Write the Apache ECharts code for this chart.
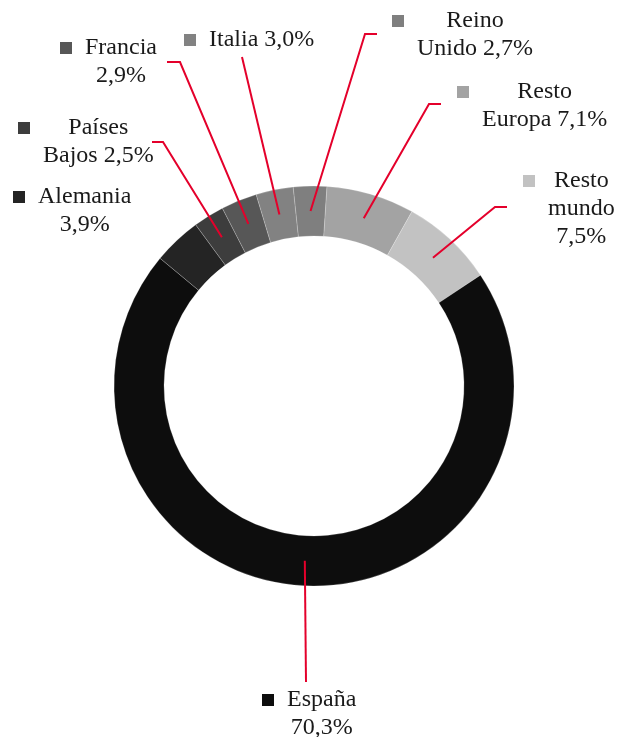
<!DOCTYPE html>
<html>
<head>
<meta charset="utf-8">
<script src="https://cdn.jsdelivr.net/npm/echarts@6/dist/echarts.min.js"></script>
<style>
html,body{margin:0;padding:0;background:#fff;}
#chart{width:618px;height:737px;}
</style>
</head>
<body>
<div id="chart"></div>
<script>
// ---- data ----
const categories = ['Reino Unido', 'Resto Europa', 'Resto mundo', 'España', 'Alemania', 'Países Bajos', 'Francia', 'Italia'];
const values = [2.7, 7.1, 7.5, 70.3, 3.9, 2.5, 2.9, 3.0];
// wrap mode per label: A = name / value, B = first word / rest + value, C = one line, D = first word / rest / value
const wrapModes = ['B', 'B', 'D', 'A', 'A', 'B', 'A', 'C'];

// ---- style / layout ----
const colors = ['#7f7f7f', '#a3a3a3', '#c2c2c2', '#0d0d0d', '#242424', '#3d3d3d', '#575757', '#828282'];
const anchors = [
  { x: 392, y: 7,   line: [[365, 34], [377, 34]] },
  { x: 457, y: 78,  line: [[429, 104], [441, 104]] },
  { x: 523, y: 167, line: [[495, 207], [507, 207]] },
  { x: 262, y: 686, line: [[306, 682]] },
  { x: 13,  y: 183, line: null },
  { x: 18,  y: 114, line: [[163, 142], [152, 142]] },
  { x: 60,  y: 34,  line: [[180, 62], [167, 62]] },
  { x: 184, y: 26,  line: [[242, 57]] }
];
const RED = '#e4002b';
const FONT = 'Liberation Serif';

function fmt(v) { return v.toFixed(1).replace('.', ',') + '%'; }
function labelLines(i) {
  const name = categories[i], v = fmt(values[i]);
  const sp = name.indexOf(' ');
  const first = sp > 0 ? name.slice(0, sp) : name;
  const rest = sp > 0 ? name.slice(sp + 1) : '';
  switch (wrapModes[i]) {
    case 'A': return [name, v];
    case 'B': return [first, rest + ' ' + v];
    case 'C': return [name + ' ' + v];
    default: return [first, rest, v];
  }
}

const rich = {
  t: { fontFamily: FONT, fontSize: 24, color: '#1a1a1a', lineHeight: 28, align: 'center' },
  gap: { width: 13, height: 12, lineHeight: 28, align: 'left' },
  sp: { width: 25, height: 12, lineHeight: 28, align: 'left' }
};
colors.forEach((c, i) => {
  rich['sq' + i] = { width: 12, height: 12, lineHeight: 28, backgroundColor: c, align: 'left' };
});

const mainData = categories.map((n, i) => ({ name: n, value: values[i], itemStyle: { color: colors[i] } }));
const labelData = categories.map((n, i) => {
  const d = { name: n, value: values[i] };
  if (!anchors[i].line) d.labelLine = { show: false };
  return d;
});

const chart = echarts.init(document.getElementById('chart'), null, { renderer: 'canvas' });
chart.setOption({
  animation: false,
  backgroundColor: '#ffffff',
  series: [
    {
      type: 'pie',
      center: [314, 386],
      radius: [150, 200],
      startAngle: 96,
      clockwise: true,
      silent: true,
      z: 2,
      label: { show: false },
      labelLine: { show: false },
      itemStyle: { borderColor: 'rgba(255,255,255,0.35)', borderWidth: 0.6 },
      data: mainData
    },
    {
      type: 'pie',
      center: [314, 386],
      radius: [150, 175],
      startAngle: 96,
      clockwise: true,
      silent: true,
      z: 5,
      avoidLabelOverlap: false,
      itemStyle: { color: 'rgba(0,0,0,0)', borderWidth: 0 },
      label: {
        show: true,
        position: 'outside',
        formatter: (p) => labelLines(p.dataIndex)
          .map((l, k) => (k === 0 ? '{sq' + p.dataIndex + '|}{gap|}' : '{sp|}') + '{t|' + l + '}')
          .join('\n'),
        rich: rich
      },
      labelLine: {
        show: true,
        smooth: false,
        length: 10,
        length2: 10,
        lineStyle: { color: RED, width: 2 }
      },
      labelLayout: function (p) {
        const a = anchors[p.dataIndex];
        const r = { x: a.x, y: a.y, align: 'left', verticalAlign: 'top' };
        if (a.line && p.labelLinePoints) {
          r.labelLinePoints = [p.labelLinePoints[0]].concat(a.line);
        }
        return r;
      },
      data: labelData
    }
  ]
});
</script>
</body>
</html>
